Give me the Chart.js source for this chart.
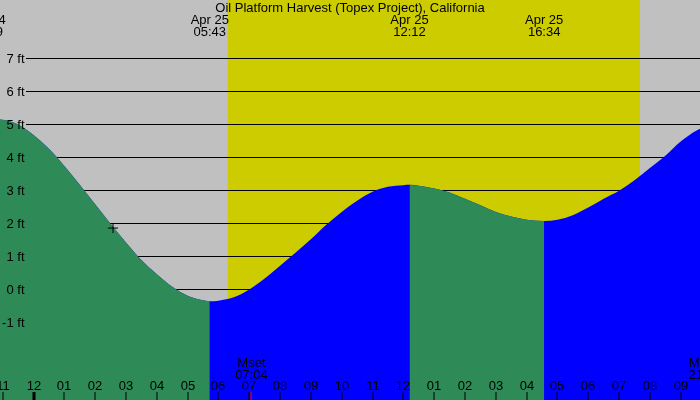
<!DOCTYPE html>
<html>
<head>
<meta charset="utf-8">
<title>Tide chart</title>
<script src="https://cdn.jsdelivr.net/npm/chart.js@4.4.0/dist/chart.umd.min.js"></script>
<style>
  html, body { margin: 0; padding: 0; background: #c0c0c0; }
  canvas { display: block; }
</style>
</head>
<body>
<canvas id="tideChart" width="700" height="400"></canvas>
<script>
// Tide readings, hours from midnight Apr 25 (negative = Apr 24)
const tideHours = [-1.52, -1, -0.5, 0, 0.5, 1, 1.5, 2, 2.5, 3, 3.5, 4, 4.5, 5, 5.5, 5.72,
  6, 6.5, 7, 7.5, 8, 8.5, 9, 9.5, 10, 10.5, 11, 11.5, 12, 12.2,
  12.5, 13, 13.5, 14, 14.5, 15, 15.5, 16, 16.57,
  17, 17.5, 18, 18.5, 19, 19.5, 20, 20.5, 21, 21.5, 22];
const tideFeet = [5.17, 5.13, 4.99, 4.67, 4.25, 3.73, 3.16, 2.57, 1.98, 1.41, 0.88, 0.45, 0.07, -0.2, -0.34, -0.37,
  -0.35, -0.25, -0.01, 0.32, 0.71, 1.1, 1.51, 1.95, 2.34, 2.68, 2.95, 3.1, 3.15, 3.16,
  3.13, 3.05, 2.93, 2.74, 2.54, 2.34, 2.2, 2.1, 2.06,
  2.1, 2.24, 2.47, 2.74, 2.98, 3.3, 3.67, 4.04, 4.47, 4.8, 5.0];

// High / low tides
const extremeHours = [-1.52, 5.72, 12.2, 16.57];
const extremeDates = ['Apr 24', 'Apr 25', 'Apr 25', 'Apr 25'];
const extremeTimes = ['22:29', '05:43', '12:12', '16:34'];

// Sun and moon
const sunHours = [6.30, 19.68]; // sunrise, sunset
const moonHours = [7.07, 21.78];
const moonNames = ['Mset', 'Mrise'];
const moonTimes = ['07:04', '21:47'];

// Axis ticks
const hourTicks = [-1, 0, 1, 2, 3, 4, 5, 6, 7, 8, 9, 10, 11, 12, 13, 14, 15, 16, 17, 18, 19, 20, 21];
const hourLabels = ['11', '12', '01', '02', '03', '04', '05', '06', '07', '08', '09', '10', '11',
  '12', '01', '02', '03', '04', '05', '06', '07', '08', '09'];
const feetTicks = [-1, 0, 1, 2, 3, 4, 5, 6, 7];
const feetLabels = ['-1 ft', '0 ft', '1 ft', '2 ft', '3 ft', '4 ft', '5 ft', '6 ft', '7 ft'];

// Current time marker
const nowHour = [2.58];
const nowFeet = [1.85];

const FONT = '13px "Liberation Sans", Arial, sans-serif';

// whole curve in blue underneath, falling pieces in green on top
const tideSets = [{
    data: tideHours.map((h, j) => ({ x: h, y: tideFeet[j] })),
    fill: 'start',
    backgroundColor: '#0000ff',
    borderWidth: 0,
    pointRadius: 0,
    cubicInterpolationMode: 'monotone',
    order: 3
}];
const bounds = extremeHours.concat([Infinity]);
for (let i = 0; i < bounds.length - 1; i++) {
    const pts = [];
    tideHours.forEach((h, j) => {
        if (h >= bounds[i] && h <= bounds[i + 1]) pts.push({ x: h, y: tideFeet[j] });
    });
    if (pts[pts.length - 1].y >= pts[0].y) continue; // rising: already blue
    tideSets.push({
        data: pts,
        fill: 'start',
        backgroundColor: '#2e8b57',
        borderWidth: 0,
        pointRadius: 0,
        cubicInterpolationMode: 'monotone',
        order: 2
    });
}

const tidePlugin = {
    id: 'tideDecor',
    beforeDraw(chart) {
        const ctx = chart.ctx;
        const x = chart.scales.x;
        ctx.save();
        ctx.fillStyle = '#c0c0c0';
        ctx.fillRect(0, 0, chart.width, chart.height);
        const x0 = x.getPixelForValue(sunHours[0]);
        const x1 = x.getPixelForValue(sunHours[1]);
        ctx.fillStyle = '#cccc00';
        ctx.fillRect(x0, 0, x1 - x0, chart.height);
        ctx.restore();
    },
    beforeDatasetsDraw(chart) {
        const ctx = chart.ctx;
        const y = chart.scales.y;
        ctx.save();
        ctx.strokeStyle = '#000';
        ctx.lineWidth = 1;
        feetTicks.forEach(v => {
            const py = Math.floor(y.getPixelForValue(v)) + 0.5;
            ctx.beginPath();
            ctx.moveTo(26, py);
            ctx.lineTo(chart.width, py);
            ctx.stroke();
        });
        ctx.restore();
    },
    afterDatasetsDraw(chart) {
        const ctx = chart.ctx;
        const x = chart.scales.x;
        const y = chart.scales.y;
        ctx.save();
        ctx.font = FONT;
        ctx.fillStyle = '#000';
        ctx.textBaseline = 'alphabetic';

        // y labels
        ctx.textAlign = 'right';
        feetTicks.forEach((v, i) => {
            ctx.fillText(feetLabels[i], 24.5, y.getPixelForValue(v) + 4.5);
        });

        // title and tide times
        ctx.textAlign = 'center';
        ctx.fillText('Oil Platform Harvest (Topex Project), California', 350, 12);
        extremeHours.forEach((h, i) => {
            const px = x.getPixelForValue(h);
            ctx.fillText(extremeDates[i], px, 24);
            ctx.fillText(extremeTimes[i], px, 36);
        });

        // moon events
        moonHours.forEach((h, i) => {
            const px = x.getPixelForValue(h);
            ctx.fillText(moonNames[i], px, 366.5);
            ctx.fillText(moonTimes[i], px, 378.5);
        });

        // hour labels and ticks
        hourTicks.forEach((h, i) => {
            const px = Math.round(x.getPixelForValue(h));
            ctx.fillText(hourLabels[i], px, 390);
            if (h === 0) {
                ctx.fillRect(px - 1.5, 392, 3, 8);
            } else {
                ctx.fillRect(px - 0.5, 392, 1, 8);
            }
        });
        ctx.fillStyle = '#ff0000';
        moonHours.forEach(h => {
            const px = Math.round(x.getPixelForValue(h));
            ctx.fillRect(px - 0.5, 392, 1, 8);
        });
        ctx.restore();
    }
};

new Chart(document.getElementById('tideChart'), {
    type: 'line',
    data: {
        datasets: tideSets.concat([{
            type: 'scatter',
            data: nowHour.map((h, i) => ({ x: h, y: nowFeet[i] })),
            pointStyle: 'cross',
            pointRadius: 5,
            borderColor: '#000',
            borderWidth: 1,
            order: 0
        }])
    },
    options: {
        responsive: false,
        animation: false,
        events: [],
        layout: { padding: 0, autoPadding: false },
        scales: {
            x: { type: 'linear', min: -1.087, max: 21.626, display: false },
            y: { type: 'linear', min: -3.36, max: 8.76, display: false }
        },
        plugins: {
            legend: { display: false },
            tooltip: { enabled: false },
            title: { display: false }
        }
    },
    plugins: [tidePlugin]
});
</script>
</body>
</html>
